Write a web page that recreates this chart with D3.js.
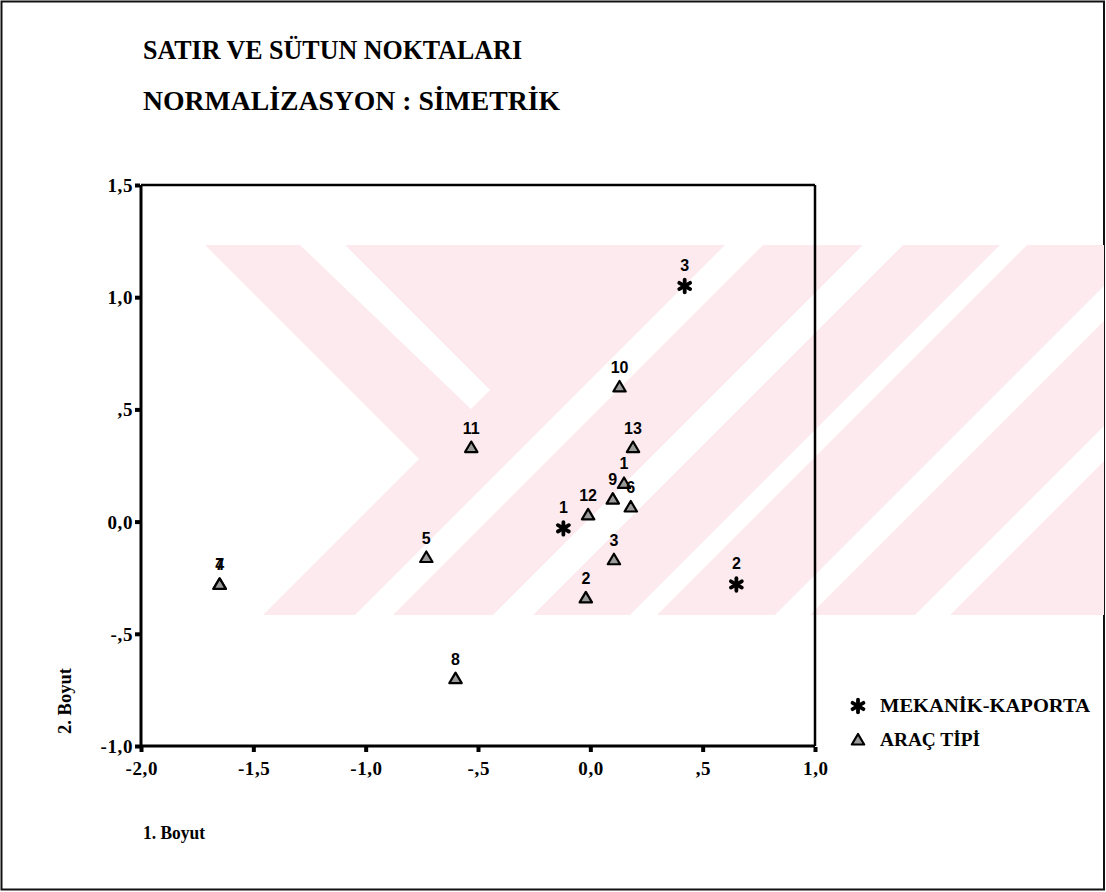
<!DOCTYPE html>
<html>
<head>
<meta charset="utf-8">
<script src="https://cdn.jsdelivr.net/npm/d3@7"></script>
<style>
  html, body { margin: 0; padding: 0; background: #fff; }
  svg { display: block; }
  .serif { font-family: "Liberation Serif", "Times New Roman", serif; font-weight: bold; fill: #000; }
  .pt-label { font-family: "Liberation Sans", Arial, sans-serif; font-weight: bold; font-size: 16px; fill: #000; }
</style>
</head>
<body>
<script>
// Row points (MEKANİK-KAPORTA) and column points (ARAÇ TİPİ)
const rowLabels = ["1", "2", "3"];
const rowDim1 = [-0.12, 0.65, 0.42];
const rowDim2 = [-0.03, -0.28, 1.05];

const colLabels = ["1", "2", "3", "4", "5", "6", "7", "8", "9", "10", "11", "12", "13"];
const colDim1 = [0.15, -0.02, 0.105, -1.65, -0.73, 0.18, -1.65, -0.60, 0.10, 0.13, -0.53, -0.01, 0.19];
const colDim2 = [0.17, -0.34, -0.17, -0.28, -0.16, 0.065, -0.28, -0.70, 0.10, 0.60, 0.33, 0.03, 0.33];

const xTicks = [-2.0, -1.5, -1.0, -0.5, 0.0, 0.5, 1.0];
const yTicks = [-1.0, -0.5, 0.0, 0.5, 1.0, 1.5];
const xTickText = ["-2,0", "-1,5", "-1,0", "-,5", "0,0", ",5", "1,0"];
const yTickText = ["-1,0", "-,5", "0,0", ",5", "1,0", "1,5"];

const titleLines = ["SATIR VE SÜTUN NOKTALARI", "NORMALİZASYON : SİMETRİK"];
const legendNames = ["MEKANİK-KAPORTA", "ARAÇ TİPİ"];

const W = 1106, H = 892;
const svg = d3.select("body").append("svg").attr("width", W).attr("height", H);

// page frame
svg.append("rect").attr("x", 1.5).attr("y", 1.5).attr("width", W - 3.5).attr("height", H - 4)
  .attr("fill", "#fff").attr("stroke", "#111").attr("stroke-width", 2);

// faint background emblem: pink field crossed by white diagonal bands
const wm = svg.append("g");
const wmTop = 245, wmBot = 615, wmLeft = 195;
wm.append("defs").append("clipPath").attr("id", "wmclip")
  .append("rect").attr("x", wmLeft).attr("y", wmTop).attr("width", W - 2 - wmLeft).attr("height", wmBot - wmTop);
const wg = wm.append("g").attr("clip-path", "url(#wmclip)");
const pink = "#fdeaee";
wg.append("rect").attr("x", wmLeft).attr("y", wmTop).attr("width", W - wmLeft).attr("height", wmBot - wmTop).attr("fill", pink);
// "/" band with x+y in [a,b]
const slashBand = (a, b) => [[a - wmTop, wmTop], [b - wmTop, wmTop], [b - wmBot, wmBot], [a - wmBot, wmBot]];
const poly = d3.line();
[[970, 1008], [1108, 1148], [1245, 1272], [1390, 1425], [1530, 1565]].forEach(([a, b]) => {
  wg.append("path").attr("d", poly(slashBand(a, b)) + "Z").attr("fill", "#fff");
});
// left wedge and "\" gap
wg.append("path").attr("d", poly([[wmLeft, wmTop], [205, wmTop], [419, 459], [263, wmBot], [wmLeft, wmBot]]) + "Z").attr("fill", "#fff");
wg.append("path").attr("d", poly([[300, wmTop], [345, wmTop], [490, 390], [471, 409]]) + "Z").attr("fill", "#fff");

// scales
const x = d3.scaleLinear().domain([-2, 1]).range([141, 815]);
const y = d3.scaleLinear().domain([-1, 1.5]).range([746, 185]);

// plot frame
const fr = svg.append("g").attr("stroke", "#000").attr("fill", "none");
fr.append("line").attr("x1", x(-2)).attr("x2", x(1)).attr("y1", y(1.5)).attr("y2", y(1.5)).attr("stroke-width", 2.5);
fr.append("line").attr("x1", x(1)).attr("x2", x(1)).attr("y1", y(1.5)).attr("y2", y(-1)).attr("stroke-width", 2.5);
fr.append("line").attr("x1", x(-2)).attr("x2", x(-2)).attr("y1", y(1.5)).attr("y2", y(-1) + 1).attr("stroke-width", 3);
fr.append("line").attr("x1", x(-2) - 1).attr("x2", x(1)).attr("y1", y(-1)).attr("y2", y(-1)).attr("stroke-width", 3);

// axes with square tick marks
const xAxis = d3.axisBottom(x).tickValues(xTicks).tickSize(5).tickFormat((d, i) => xTickText[i]);
const gx = svg.append("g").attr("transform", `translate(0,${y(-1) + 1})`).call(xAxis);
gx.select(".domain").remove();
gx.selectAll(".tick line").attr("stroke", "#000").attr("stroke-width", 4);
gx.selectAll(".tick text").attr("class", "serif").style("font-size", "19px").attr("letter-spacing", 0.6)
  .attr("dy", null).attr("y", 28).attr("dx", 0.3);

const yAxis = d3.axisLeft(y).tickValues(yTicks).tickSize(5).tickFormat((d, i) => yTickText[i]);
const gy = svg.append("g").attr("transform", `translate(${x(-2) - 1},0)`).call(yAxis);
gy.select(".domain").remove();
gy.selectAll(".tick line").attr("stroke", "#000").attr("stroke-width", 4);
gy.selectAll(".tick text").attr("class", "serif").style("font-size", "19px").attr("letter-spacing", 0.6)
  .attr("x", -7).attr("dy", "0.34em");

// titles
titleLines.forEach((t, i) => {
  svg.append("text").attr("class", "serif").attr("x", 143).attr("y", 59 + i * 51)
    .style("font-size", "28px").attr("textLength", i === 0 ? 379 : 417).attr("lengthAdjust", "spacingAndGlyphs").text(t);
});

// axis titles
svg.append("text").attr("class", "serif").attr("x", 143).attr("y", 839).style("font-size", "18px")
  .attr("textLength", 62).attr("lengthAdjust", "spacingAndGlyphs").text("1. Boyut");
svg.append("text").attr("class", "serif").style("font-size", "18px").attr("text-anchor", "middle")
  .attr("textLength", 66).attr("lengthAdjust", "spacingAndGlyphs")
  .attr("transform", `translate(71,701) rotate(-90)`).text("2. Boyut");

// marker shapes
const triPath = "M0,-6L6.2,4.5L-6.2,4.5Z";
function drawTri(g, cx, cy) {
  g.append("path").attr("d", triPath).attr("transform", `translate(${cx},${cy})`)
    .attr("fill", "#9a9a9a").attr("stroke", "#000").attr("stroke-width", 2.2).attr("stroke-linejoin", "round");
}
function drawStar(g, cx, cy) {
  const s = g.append("g").attr("transform", `translate(${cx},${cy})`).attr("stroke", "#000")
    .attr("stroke-width", 3.8).attr("stroke-linecap", "round");
  [90, 30, -30].forEach(a => {
    const r = a * Math.PI / 180, dx = 6.3 * Math.cos(r), dy = 6.3 * Math.sin(r);
    s.append("line").attr("x1", -dx).attr("y1", -dy).attr("x2", dx).attr("y2", dy);
  });
}

const pts = svg.append("g");
colLabels.forEach((lab, i) => {
  const cx = x(colDim1[i]), cy = y(colDim2[i]);
  drawTri(pts, cx, cy);
  pts.append("text").attr("class", "pt-label").attr("x", cx).attr("y", cy - 14)
    .attr("text-anchor", "middle").text(lab);
});
rowLabels.forEach((lab, i) => {
  const cx = x(rowDim1[i]), cy = y(rowDim2[i]);
  drawStar(pts, cx, cy);
  pts.append("text").attr("class", "pt-label").attr("x", cx).attr("y", cy - 15)
    .attr("text-anchor", "middle").text(lab);
});

// legend
const lg = svg.append("g");
drawStar(lg, 858, 706);
drawTri(lg, 858, 740);
lg.append("text").attr("class", "serif").attr("x", 880).attr("y", 712).style("font-size", "18px")
  .attr("textLength", 210).attr("lengthAdjust", "spacingAndGlyphs").text(legendNames[0]);
lg.append("text").attr("class", "serif").attr("x", 880).attr("y", 746).style("font-size", "18px")
  .attr("textLength", 100).attr("lengthAdjust", "spacingAndGlyphs").text(legendNames[1]);
</script>
</body>
</html>
